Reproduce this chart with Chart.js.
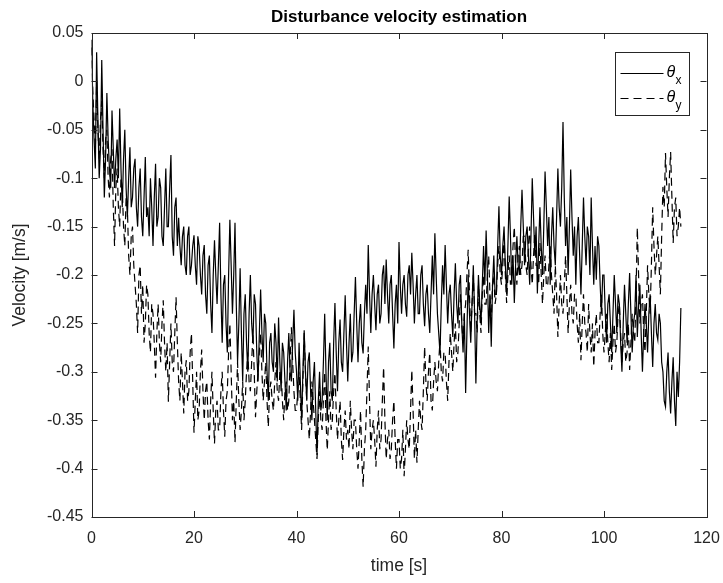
<!DOCTYPE html>
<html>
<head>
<meta charset="utf-8">
<script src="https://cdn.jsdelivr.net/npm/chart.js@4.4.1/dist/chart.umd.min.js"></script>
<style>
  html, body { margin: 0; padding: 0; background: #fff; }
  #wrap { width: 723px; height: 583px; }
</style>
</head>
<body>
<div id="wrap"><canvas id="chart" width="723" height="583"></canvas></div>
<script>
// sample step of the estimator log [s]
const sampleStep = 0.25;

// theta_x, every 0.25 s (0 .. 115 s), one row = 5 s
const thetaX = [
  0.043, -0.02, -0.06, -0.09, 0.03, -0.04, -0.1, -0.07, 0.022, -0.05, -0.12, -0.08, -0.012, -0.06, -0.09, -0.11, -0.03, -0.07, -0.11, -0.08,
  -0.06, -0.1, -0.028, -0.09, -0.13, -0.08, -0.05, -0.11, -0.14, -0.1, -0.068, -0.13, -0.12, -0.09, -0.08, -0.13, -0.15, -0.11, -0.09, -0.14,
  -0.16, -0.12, -0.078, -0.14, -0.13, -0.16, -0.1, -0.13, -0.17, -0.12, -0.085, -0.15, -0.14, -0.1, -0.11, -0.16, -0.17, -0.13, -0.09, -0.15,
  -0.15, -0.11, -0.076, -0.16, -0.18, -0.13, -0.12, -0.17, -0.141, -0.17, -0.19, -0.16, -0.15, -0.19, -0.2, -0.16, -0.15, -0.2, -0.19, -0.17,
  -0.159, -0.19, -0.21, -0.16, -0.17, -0.2, -0.22, -0.18, -0.169, -0.22, -0.24, -0.19, -0.18, -0.23, -0.26, -0.2, -0.164, -0.2, -0.23, -0.19,
  -0.146, -0.22, -0.27, -0.21, -0.2, -0.25, -0.28, -0.2, -0.143, -0.19, -0.24, -0.2, -0.146, -0.23, -0.29, -0.25, -0.193, -0.26, -0.31, -0.24,
  -0.22, -0.27, -0.3, -0.24, -0.2, -0.25, -0.27, -0.22, -0.23, -0.28, -0.31, -0.26, -0.215, -0.26, -0.29, -0.24, -0.25, -0.3, -0.33, -0.27,
  -0.26, -0.29, -0.3, -0.25, -0.27, -0.31, -0.244, -0.29, -0.32, -0.27, -0.28, -0.31, -0.34, -0.29, -0.26, -0.3, -0.31, -0.27, -0.236, -0.28,
  -0.3, -0.33, -0.27, -0.31, -0.35, -0.3, -0.257, -0.3, -0.33, -0.29, -0.28, -0.32, -0.35, -0.31, -0.29, -0.34, -0.386, -0.33, -0.3, -0.34,
  -0.33, -0.29, -0.24, -0.3, -0.35, -0.29, -0.27, -0.32, -0.33, -0.27, -0.229, -0.28, -0.32, -0.27, -0.246, -0.29, -0.3, -0.26, -0.221, -0.27,
  -0.31, -0.27, -0.24, -0.29, -0.28, -0.24, -0.202, -0.25, -0.29, -0.25, -0.23, -0.27, -0.281, -0.24, -0.21, -0.24, -0.169, -0.22, -0.26, -0.22,
  -0.2, -0.23, -0.257, -0.22, -0.21, -0.25, -0.24, -0.2, -0.19, -0.23, -0.184, -0.22, -0.25, -0.21, -0.2, -0.24, -0.276, -0.23, -0.21, -0.25,
  -0.166, -0.21, -0.24, -0.21, -0.2, -0.23, -0.243, -0.2, -0.19, -0.22, -0.177, -0.21, -0.25, -0.22, -0.2, -0.24, -0.24, -0.2, -0.19, -0.23,
  -0.253, -0.22, -0.21, -0.24, -0.26, -0.22, -0.18, -0.22, -0.157, -0.2, -0.24, -0.26, -0.281, -0.23, -0.19, -0.22, -0.169, -0.21, -0.25, -0.22,
  -0.21, -0.24, -0.264, -0.22, -0.188, -0.23, -0.25, -0.21, -0.2, -0.25, -0.28, -0.24, -0.322, -0.26, -0.2, -0.24, -0.27, -0.23, -0.19, -0.24,
  -0.312, -0.25, -0.2, -0.23, -0.25, -0.21, -0.17, -0.21, -0.154, -0.2, -0.26, -0.22, -0.274, -0.21, -0.18, -0.22, -0.22, -0.17, -0.129, -0.18,
  -0.2, -0.17, -0.15, -0.19, -0.22, -0.17, -0.119, -0.16, -0.21, -0.18, -0.229, -0.19, -0.16, -0.19, -0.2, -0.15, -0.112, -0.15, -0.19, -0.16,
  -0.15, -0.18, -0.21, -0.16, -0.1, -0.14, -0.18, -0.15, -0.219, -0.17, -0.13, -0.17, -0.2, -0.15, -0.093, -0.13, -0.17, -0.14, -0.21, -0.16,
  -0.13, -0.17, -0.19, -0.14, -0.09, -0.13, -0.15, -0.11, -0.042, -0.12, -0.17, -0.14, -0.2, -0.15, -0.091, -0.14, -0.18, -0.15, -0.21, -0.16,
  -0.14, -0.18, -0.22, -0.17, -0.12, -0.16, -0.19, -0.15, -0.16, -0.2, -0.12, -0.17, -0.21, -0.17, -0.205, -0.16, -0.17, -0.21, -0.24, -0.2,
  -0.2, -0.24, -0.27, -0.23, -0.22, -0.25, -0.28, -0.24, -0.2, -0.23, -0.26, -0.22, -0.23, -0.27, -0.3, -0.25, -0.21, -0.24, -0.27, -0.23,
  -0.198, -0.24, -0.28, -0.25, -0.24, -0.2, -0.264, -0.23, -0.21, -0.26, -0.3, -0.26, -0.23, -0.25, -0.28, -0.24, -0.22, -0.26, -0.295, -0.25,
  -0.23, -0.26, -0.267, -0.24, -0.25, -0.29, -0.3, -0.33, -0.336, -0.3, -0.28, -0.32, -0.343, -0.31, -0.285, -0.33, -0.356, -0.3, -0.326, -0.29,
  -0.234
];

// theta_y, same time base
const thetaY = [
  0.035, -0.01, -0.04, -0.07, 0.0, -0.05, -0.08, -0.04, -0.02, -0.07, -0.1, -0.06, -0.05, -0.1, -0.12, -0.08, -0.07, -0.13, -0.17, -0.11,
  -0.09, -0.13, -0.15, -0.1, -0.11, -0.15, -0.17, -0.12, -0.13, -0.18, -0.2, -0.16, -0.15, -0.19, -0.21, -0.23, -0.26, -0.2, -0.19, -0.24,
  -0.21, -0.27, -0.25, -0.21, -0.22, -0.26, -0.28, -0.23, -0.24, -0.27, -0.306, -0.26, -0.23, -0.27, -0.29, -0.25, -0.226, -0.27, -0.3, -0.27,
  -0.331, -0.29, -0.25, -0.29, -0.3, -0.26, -0.223, -0.27, -0.31, -0.33, -0.28, -0.31, -0.343, -0.3, -0.288, -0.33, -0.32, -0.28, -0.26, -0.31,
  -0.363, -0.33, -0.3, -0.35, -0.34, -0.3, -0.277, -0.32, -0.35, -0.32, -0.31, -0.35, -0.37, -0.33, -0.3, -0.34, -0.374, -0.34, -0.33, -0.36,
  -0.36, -0.32, -0.3, -0.34, -0.367, -0.33, -0.32, -0.28, -0.25, -0.3, -0.35, -0.33, -0.373, -0.33, -0.29, -0.33, -0.36, -0.34, -0.31, -0.35,
  -0.33, -0.3, -0.28, -0.31, -0.32, -0.29, -0.26, -0.3, -0.347, -0.32, -0.3, -0.28, -0.26, -0.3, -0.33, -0.31, -0.29, -0.33, -0.357, -0.32,
  -0.31, -0.33, -0.34, -0.31, -0.29, -0.32, -0.33, -0.3, -0.3, -0.33, -0.35, -0.32, -0.31, -0.34, -0.33, -0.29, -0.254, -0.29, -0.32, -0.34,
  -0.34, -0.32, -0.3, -0.33, -0.36, -0.31, -0.26, -0.3, -0.33, -0.35, -0.37, -0.34, -0.31, -0.33, -0.35, -0.37, -0.39, -0.35, -0.32, -0.35,
  -0.36, -0.33, -0.3, -0.35, -0.381, -0.35, -0.32, -0.36, -0.35, -0.32, -0.301, -0.34, -0.37, -0.35, -0.33, -0.37, -0.391, -0.36, -0.34, -0.37,
  -0.36, -0.38, -0.33, -0.36, -0.38, -0.35, -0.35, -0.38, -0.4, -0.37, -0.34, -0.39, -0.419, -0.38, -0.36, -0.32, -0.274, -0.33, -0.38, -0.36,
  -0.35, -0.37, -0.398, -0.36, -0.34, -0.38, -0.37, -0.33, -0.295, -0.35, -0.39, -0.37, -0.36, -0.39, -0.38, -0.35, -0.33, -0.37, -0.4, -0.37,
  -0.37, -0.4, -0.39, -0.36, -0.408, -0.38, -0.35, -0.37, -0.38, -0.34, -0.298, -0.34, -0.39, -0.36, -0.394, -0.36, -0.33, -0.35, -0.36, -0.32,
  -0.274, -0.31, -0.33, -0.3, -0.28, -0.33, -0.34, -0.31, -0.29, -0.31, -0.32, -0.29, -0.267, -0.3, -0.31, -0.28, -0.28, -0.31, -0.33, -0.29,
  -0.26, -0.28, -0.3, -0.27, -0.25, -0.29, -0.28, -0.25, -0.22, -0.25, -0.27, -0.24, -0.23, -0.2, -0.174, -0.22, -0.26, -0.23, -0.2, -0.24,
  -0.24, -0.26, -0.21, -0.24, -0.26, -0.22, -0.2, -0.23, -0.23, -0.2, -0.18, -0.22, -0.25, -0.21, -0.2, -0.23, -0.22, -0.19, -0.17, -0.2,
  -0.21, -0.19, -0.16, -0.2, -0.229, -0.2, -0.18, -0.21, -0.2, -0.17, -0.15, -0.19, -0.21, -0.18, -0.17, -0.2, -0.19, -0.16, -0.16, -0.19,
  -0.2, -0.17, -0.15, -0.19, -0.21, -0.18, -0.157, -0.19, -0.19, -0.21, -0.167, -0.2, -0.23, -0.2, -0.18, -0.21, -0.212, -0.19, -0.17, -0.2,
  -0.22, -0.24, -0.19, -0.22, -0.264, -0.23, -0.2, -0.23, -0.24, -0.21, -0.18, -0.22, -0.26, -0.23, -0.21, -0.24, -0.25, -0.22, -0.22, -0.25,
  -0.27, -0.24, -0.288, -0.25, -0.22, -0.25, -0.26, -0.28, -0.23, -0.26, -0.28, -0.25, -0.295, -0.26, -0.24, -0.27, -0.27, -0.24, -0.22, -0.26,
  -0.28, -0.26, -0.24, -0.27, -0.29, -0.26, -0.298, -0.27, -0.25, -0.28, -0.27, -0.24, -0.23, -0.26, -0.29, -0.27, -0.26, -0.29, -0.28, -0.25,
  -0.298, -0.27, -0.24, -0.26, -0.27, -0.22, -0.151, -0.2, -0.25, -0.23, -0.22, -0.26, -0.28, -0.24, -0.19, -0.22, -0.24, -0.19, -0.13, -0.17,
  -0.2, -0.18, -0.16, -0.19, -0.22, -0.16, -0.109, -0.13, -0.074, -0.11, -0.14, -0.1, -0.073, -0.12, -0.167, -0.13, -0.12, -0.16, -0.15, -0.13,
  -0.15
];

const xTicks = [0, 20, 40, 60, 80, 100, 120];
const yTicks = [0.05, 0, -0.05, -0.1, -0.15, -0.2, -0.25, -0.3, -0.35, -0.4, -0.45];

const chartTitle = 'Disturbance velocity estimation';
const axisColor = '#262626';
const fontFamily = "'Liberation Sans', Arial, Helvetica, sans-serif";

const toPoints = arr => arr.map((v, i) => ({ x: i * sampleStep, y: v }));

// title centred over the axes box, like MATLAB does
const titlePlugin = {
  id: 'boxTitle',
  afterDraw(chart) {
    const { ctx, chartArea: a } = chart;
    ctx.save();
    ctx.fillStyle = '#000';
    ctx.font = 'bold 17px ' + fontFamily;
    ctx.textAlign = 'center';
    ctx.textBaseline = 'middle';
    ctx.fillText(chartTitle, (a.left + a.right) / 2, 17);
    ctx.restore();
  }
};

// MATLAB style box with inward ticks
const boxPlugin = {
  id: 'matlabBox',
  afterDatasetsDraw(chart) {
    const { ctx, chartArea: a, scales } = chart;
    const len = 6;
    ctx.save();
    ctx.strokeStyle = axisColor;
    ctx.lineWidth = 1;
    ctx.beginPath();
    xTicks.forEach(v => {
      const px = Math.round(scales.x.getPixelForValue(v)) + 0.5;
      ctx.moveTo(px, a.bottom); ctx.lineTo(px, a.bottom - len);
      ctx.moveTo(px, a.top); ctx.lineTo(px, a.top + len);
    });
    yTicks.forEach(v => {
      const py = Math.round(scales.y.getPixelForValue(v)) + 0.5;
      ctx.moveTo(a.left, py); ctx.lineTo(a.left + len, py);
      ctx.moveTo(a.right, py); ctx.lineTo(a.right - len, py);
    });
    ctx.stroke();
    ctx.strokeRect(Math.round(a.left) + 0.5, Math.round(a.top) + 0.5,
                   Math.round(a.right - a.left), Math.round(a.bottom - a.top));
    ctx.restore();
  }
};

// legend with theta and subscript, drawn in the top right corner
const legendPlugin = {
  id: 'thetaLegend',
  afterDraw(chart) {
    const { ctx, chartArea: a } = chart;
    const bx = a.right - 92, by = a.top + 19, bw = 74, bh = 63;
    ctx.save();
    ctx.fillStyle = '#fff';
    ctx.fillRect(bx, by, bw, bh);
    ctx.strokeStyle = axisColor;
    ctx.lineWidth = 1;
    ctx.strokeRect(Math.round(bx) + 0.5, Math.round(by) + 0.5, bw, bh);
    chart.data.datasets.forEach((ds, i) => {
      const y = Math.round(by + 21 + i * 25) + 0.5;
      ctx.strokeStyle = '#000';
      ctx.lineWidth = 1;
      ctx.setLineDash(ds.borderDash || []);
      ctx.beginPath();
      ctx.moveTo(bx + 6, y);
      ctx.lineTo(bx + 49, y);
      ctx.stroke();
      ctx.setLineDash([]);
      ctx.fillStyle = '#000';
      ctx.textBaseline = 'middle';
      ctx.font = 'italic 16px ' + fontFamily;
      ctx.fillText(ds.label.charAt(0), bx + 52, y - 1);
      ctx.font = '12px ' + fontFamily;
      ctx.fillText(ds.label.slice(1), bx + 61, y + 7);
    });
    ctx.restore();
  }
};

new Chart(document.getElementById('chart'), {
  type: 'line',
  data: {
    datasets: [
      {
        label: 'θx',
        data: toPoints(thetaX),
        borderColor: '#000',
        borderWidth: 1.2,
        pointRadius: 0,
        tension: 0,
        fill: false
      },
      {
        label: 'θy',
        data: toPoints(thetaY),
        borderColor: '#000',
        borderWidth: 1.2,
        borderDash: [8, 5],
        pointRadius: 0,
        tension: 0,
        fill: false
      }
    ]
  },
  options: {
    responsive: false,
    animation: false,
    devicePixelRatio: 1,
    layout: { padding: { left: 0, right: 16.5, top: 33, bottom: 0 } },
    plugins: {
      legend: { display: false },
      tooltip: { enabled: false },
      title: { display: false }
    },
    scales: {
      x: {
        type: 'linear',
        min: 0,
        max: 120,
        afterBuildTicks: s => { s.ticks = xTicks.map(v => ({ value: v })); },
        afterFit: s => { s.height = 66; s.paddingLeft = 0; s.paddingRight = 0; },
        grid: { display: false, drawTicks: false },
        border: { display: false },
        ticks: {
          color: axisColor,
          font: { family: fontFamily, size: 16 },
          padding: 12,
          maxRotation: 0,
          callback: v => String(v)
        },
        title: {
          display: true,
          text: 'time [s]',
          color: axisColor,
          font: { family: fontFamily, size: 17.5 },
          padding: { top: 0, bottom: 6 }
        }
      },
      y: {
        type: 'linear',
        min: -0.45,
        max: 0.05,
        afterBuildTicks: s => { s.ticks = yTicks.map(v => ({ value: v })); },
        afterFit: s => { s.width = 91.5; s.paddingTop = 0; s.paddingBottom = 0; },
        grid: { display: false, drawTicks: false },
        border: { display: false },
        ticks: {
          color: axisColor,
          font: { family: fontFamily, size: 16 },
          padding: 8,
          callback: v => String(v)
        },
        title: {
          display: true,
          text: 'Velocity [m/s]',
          color: axisColor,
          font: { family: fontFamily, size: 17.5 },
          padding: { top: 10, bottom: 0 }
        }
      }
    }
  },
  plugins: [boxPlugin, legendPlugin, titlePlugin]
});
</script>
</body>
</html>
